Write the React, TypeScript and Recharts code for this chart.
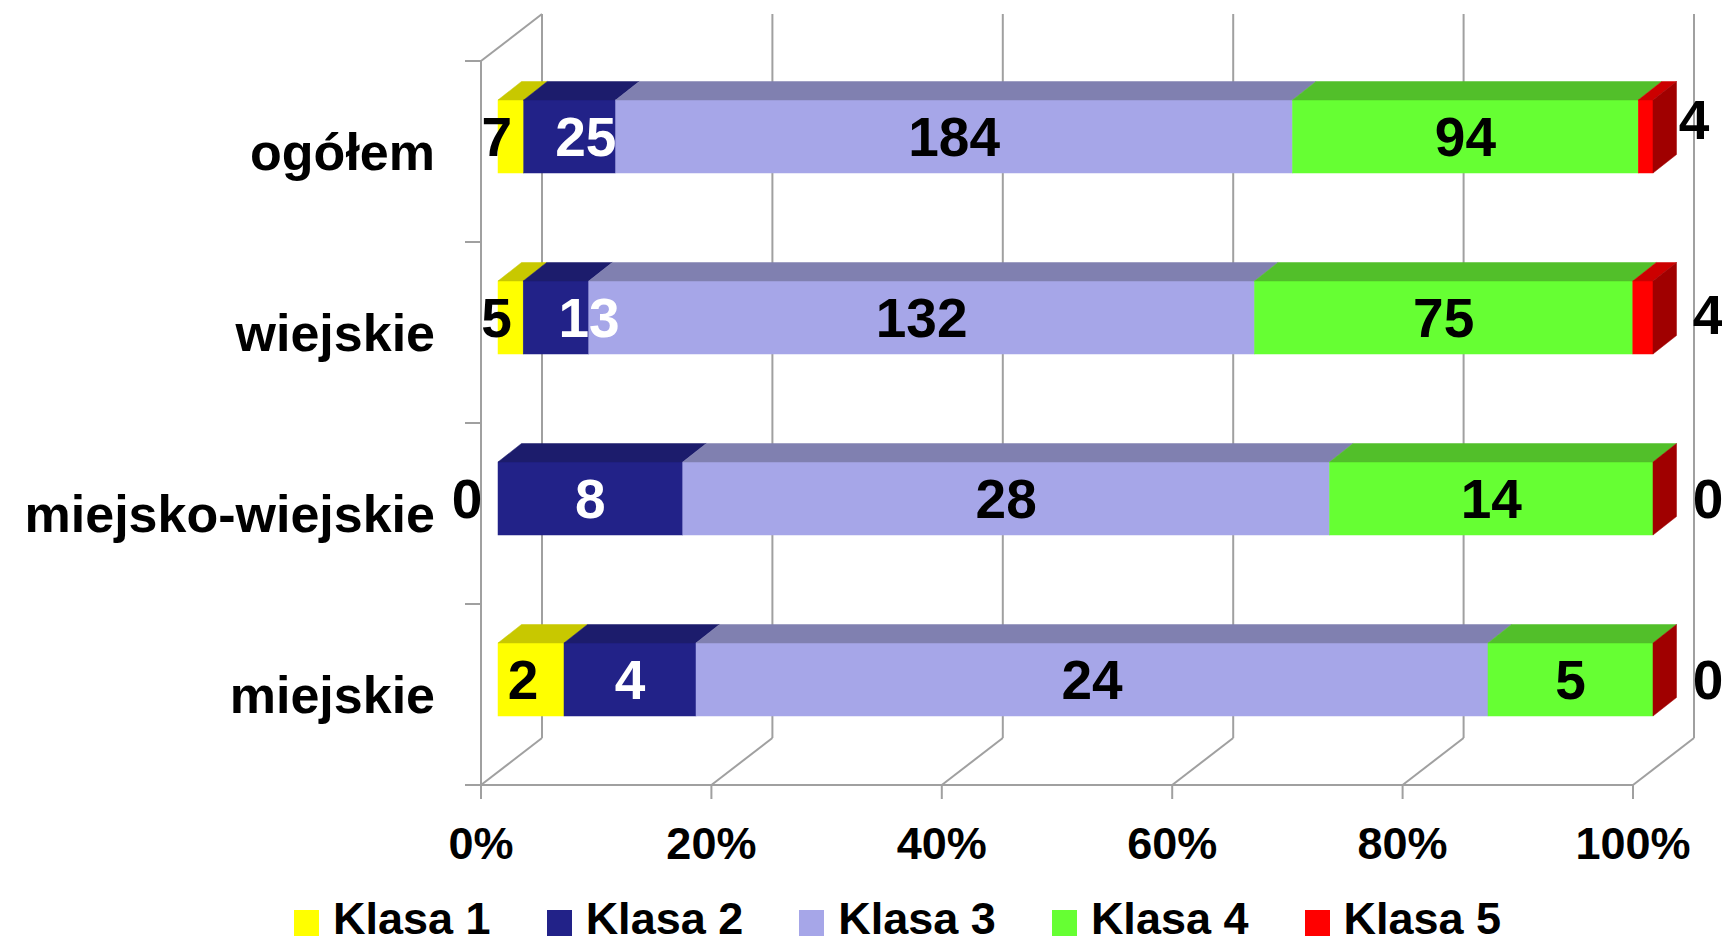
import React from 'react';
import { BarChart, Bar, XAxis, YAxis, Legend, ReferenceLine } from 'recharts';

// ---------- data ----------
const categories = ['ogółem', 'wiejskie', 'miejsko-wiejskie', 'miejskie'];
const seriesNames = ['Klasa 1', 'Klasa 2', 'Klasa 3', 'Klasa 4', 'Klasa 5'];
const klasa1 = [7, 5, 0, 2];
const klasa2 = [25, 13, 8, 4];
const klasa3 = [184, 132, 28, 24];
const klasa4 = [94, 75, 14, 5];
const klasa5 = [4, 4, 0, 0];
const seriesValues = [klasa1, klasa2, klasa3, klasa4, klasa5];
const xTicks = [0, 0.2, 0.4, 0.6, 0.8, 1];
const xTickLabels = ['0%', '20%', '40%', '60%', '80%', '100%'];

// label nudges (style only: small offsets of value labels, px)
const labelNudges = [
  { cat: 'ogółem', series: 0, dx: -14, dy: 0 },
  { cat: 'wiejskie', series: 0, dx: -14, dy: 0 },
  { cat: 'miejskie', series: 0, dx: -8, dy: 0 },
  { cat: 'ogółem', series: 1, dx: 16, dy: 0 },
  { cat: 'wiejskie', series: 1, dx: 33, dy: 0 },
  { cat: 'ogółem', series: 4, dx: -14, dy: -17 },
  { cat: 'wiejskie', series: 4, dx: 0, dy: -3 },
];

const keys = seriesNames.map((_, i) => `k${i + 1}`);
const rows = categories.map((name, i) => {
  const r: any = { name };
  keys.forEach((k, si) => {
    r[k] = seriesValues[si][i];
  });
  return r;
});

// ---------- styles ----------
const FONT = '"Liberation Sans", Arial, Helvetica, sans-serif';
const colors = [
  { front: '#FFFF00', top: '#C8C800', side: '#9B9B00' },
  { front: '#222288', top: '#1C1C6C', side: '#15154F' },
  { front: '#A6A6E8', top: '#8080B0', side: '#626290' },
  { front: '#66FF33', top: '#52BF2A', side: '#3D9020' },
  { front: '#FF0000', top: '#CC0000', side: '#A00000' },
];
const labelColors = ['#000', '#fff', '#000', '#000', '#000'];
const GRID = '#A0A0A0';
const WALL_DX = 61;
const WALL_DY = -47;
const SHIFT_X = 17;
const SHIFT_Y = -15;
const DEPTH_X = 23.5;
const DEPTH_Y = 18.5;
const LABEL_FS = 55;
const BAR_STRETCH = 1.0026;

const W = 1722;
const H = 943;
const PLOT_LEFT = 481;

function rowIndex(p: any) {
  const i = categories.indexOf(p?.payload?.name);
  return i >= 0 ? i : p.index;
}

function geom(p: any) {
  const left = p?.background?.x ?? PLOT_LEFT;
  const x = left + (p.x - left) * BAR_STRETCH + SHIFT_X;
  const w = Math.max(0, (p.width || 0) * BAR_STRETCH);
  return { x, w, y: p.y + SHIFT_Y, h: p.height || 0 };
}

function barShape(si: number) {
  return (p: any) => {
    const { x, y, w, h } = geom(p);
    const c = colors[si];
    const idx = rowIndex(p);
    const parts: any[] = [];
    if (w > 0) {
      parts.push(
        <rect key="f" x={x} y={y} width={w} height={h} fill={c.front} stroke={c.front} strokeWidth={0.5} />
      );
      parts.push(
        <polygon
          key="t"
          points={`${x},${y} ${x + w},${y} ${x + w + DEPTH_X},${y - DEPTH_Y} ${x + DEPTH_X},${y - DEPTH_Y}`}
          fill={c.top}
          stroke={c.top}
          strokeWidth={0.5}
        />
      );
    }
    const drawSide = si === 4 ? w > 0 : si === 3 && seriesValues[4][idx] === 0;
    if (drawSide) {
      const ex = x + w;
      parts.push(
        <polygon
          key="s"
          points={`${ex},${y} ${ex + DEPTH_X},${y - DEPTH_Y} ${ex + DEPTH_X},${y + h - DEPTH_Y} ${ex},${y + h}`}
          fill={colors[4].side}
          stroke={colors[4].side}
          strokeWidth={0.5}
        />
      );
    }
    return <g>{parts}</g>;
  };
}

function labelShape(si: number) {
  return (p: any) => {
    const idx = rowIndex(p);
    const v = seriesValues[si][idx];
    const { x, y, w, h } = geom(p);
    let cx = x + w / 2;
    const cy = y + h / 2;
    if (si === 4) cx = x + w + 55;
    else if (v === 0) cx = x - 31;
    const n = labelNudges.find((q) => q.cat === categories[idx] && q.series === si);
    const dx = n ? n.dx : 0;
    const dy = n ? n.dy : 0;
    return (
      <text
        x={cx + dx}
        y={cy + dy + 0.355 * LABEL_FS}
        textAnchor="middle"
        fontSize={LABEL_FS}
        fontWeight={700}
        fontFamily={FONT}
        fill={labelColors[si]}
      >
        {v}
      </text>
    );
  };
}

const nullShape = () => <g />;

function wallShape(isLeft: boolean) {
  return (p: any) => {
    const x = p.x1;
    const top = Math.min(p.y1, p.y2);
    const bottom = Math.max(p.y1, p.y2);
    const bx = x + WALL_DX;
    const els: any[] = [
      <line key="b" x1={bx} y1={top + WALL_DY} x2={bx} y2={bottom + WALL_DY} />,
      <line key="fl" x1={x} y1={bottom} x2={bx} y2={bottom + WALL_DY} />,
    ];
    if (isLeft) {
      els.push(<line key="td" x1={x} y1={top} x2={bx} y2={top + WALL_DY} />);
      els.push(<line key="fv" x1={x} y1={top} x2={x} y2={bottom} />);
      const n = categories.length;
      for (let i = 0; i <= n; i++) {
        const yy = top + ((bottom - top) * i) / n;
        els.push(<line key={`tk${i}`} x1={x - 16} y1={yy} x2={x} y2={yy} />);
      }
    }
    return (
      <g stroke={GRID} strokeWidth={2} fill="none">
        {els}
      </g>
    );
  };
}

const LegendContent = (props: any) => {
  const payload = props.payload || [];
  return (
    <div
      style={{
        display: 'flex',
        alignItems: 'center',
        height: 44,
        paddingLeft: 294,
        fontFamily: FONT,
        fontWeight: 700,
        fontSize: 45,
        color: '#000',
        whiteSpace: 'nowrap',
      }}
    >
      {payload.map((e: any, i: number) => (
        <div key={i} style={{ display: 'flex', alignItems: 'center', marginRight: 56 }}>
          <span
            style={{
              display: 'inline-block',
              width: 25,
              height: 26,
              background: e.color,
              marginRight: 14,
              position: 'relative',
              top: 4,
            }}
          />
          <span style={{ position: 'relative', top: 0, lineHeight: '44px' }}>{e.value}</span>
        </div>
      ))}
    </div>
  );
};

function ChartLayer({ mode }: { mode: 'back' | 'bars' | 'labels' }) {
  const show = mode === 'back';
  return (
    <BarChart
      width={W}
      height={H}
      data={rows}
      layout="vertical"
      stackOffset="expand"
      margin={{ top: 61, right: 89, bottom: 2, left: 0 }}
    >
      <XAxis
        type="number"
        domain={[0, 1]}
        ticks={xTicks}
        interval={0}
        tickFormatter={(v: number) => xTickLabels[xTicks.indexOf(v)] ?? `${Math.round(v * 100)}%`}
        height={112}
        tickSize={14}
        tickMargin={28}
        axisLine={show ? { stroke: GRID, strokeWidth: 2 } : false}
        tickLine={show ? { stroke: GRID, strokeWidth: 2 } : false}
        tick={show ? { fontSize: 45, fontWeight: 700, fill: '#000', fontFamily: FONT } : false}
      />
      <YAxis
        type="category"
        dataKey="name"
        width={PLOT_LEFT}
        interval={0}
        tickSize={0}
        tickMargin={46}
        axisLine={false}
        tickLine={false}
        tick={show ? { fontSize: 52, fontWeight: 700, fill: '#000', fontFamily: FONT } : false}
      />
      <Legend
        verticalAlign="bottom"
        align="left"
        height={44}
        content={LegendContent}
        wrapperStyle={show ? {} : { visibility: 'hidden' }}
      />
      {show &&
        xTicks.map((t, i) => (
          <ReferenceLine key={`w${i}`} x={t} ifOverflow="visible" shape={wallShape(i === 0)} />
        ))}
      {keys.map((k, si) => (
        <Bar
          key={k}
          dataKey={k}
          name={seriesNames[si]}
          stackId="a"
          barSize={73}
          fill={colors[si].front}
          isAnimationActive={false}
          shape={mode === 'bars' ? barShape(si) : mode === 'labels' ? labelShape(si) : nullShape}
        />
      ))}
    </BarChart>
  );
}

export default function App() {
  return (
    <div
      style={{
        position: 'absolute',
        left: 0,
        top: 0,
        width: W,
        height: H,
        background: '#fff',
        overflow: 'hidden',
      }}
    >
      <div style={{ position: 'absolute', left: 0, top: 0 }}>
        <ChartLayer mode="back" />
      </div>
      <div style={{ position: 'absolute', left: 0, top: 0 }}>
        <ChartLayer mode="bars" />
      </div>
      <div style={{ position: 'absolute', left: 0, top: 0 }}>
        <ChartLayer mode="labels" />
      </div>
    </div>
  );
}
